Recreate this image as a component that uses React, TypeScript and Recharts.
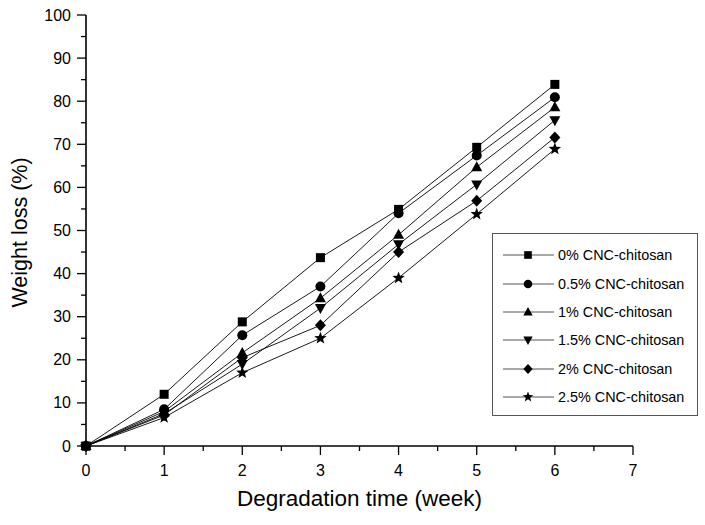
import React from 'react';
import { LineChart, Line, XAxis, YAxis, Legend } from 'recharts';

const weeks = [0, 1, 2, 3, 4, 5, 6];
const cnc0 = [0, 12, 28.8, 43.7, 54.9, 69.3, 83.9];
const cnc05 = [0, 8.5, 25.7, 37, 54, 67.4, 80.9];
const cnc1 = [0, 8, 21.6, 34.3, 49, 64.7, 78.6];
const cnc15 = [0, 7.5, 19, 32, 46.8, 60.7, 75.6];
const cnc2 = [0, 7.2, 20.5, 28, 45, 56.9, 71.6];
const cnc25 = [0, 6.6, 17, 25, 39, 53.8, 68.9];

const xTicks = [0, 0.5, 1, 1.5, 2, 2.5, 3, 3.5, 4, 4.5, 5, 5.5, 6, 6.5, 7];
const yTicks = [0, 5, 10, 15, 20, 25, 30, 35, 40, 45, 50, 55, 60, 65, 70, 75, 80, 85, 90, 95, 100];

const series = [
  { key: 'c0', name: '0% CNC-chitosan', values: cnc0, shape: 'square' },
  { key: 'c05', name: '0.5% CNC-chitosan', values: cnc05, shape: 'circle' },
  { key: 'c1', name: '1% CNC-chitosan', values: cnc1, shape: 'triangle' },
  { key: 'c15', name: '1.5% CNC-chitosan', values: cnc15, shape: 'down' },
  { key: 'c2', name: '2% CNC-chitosan', values: cnc2, shape: 'diamond' },
  { key: 'c25', name: '2.5% CNC-chitosan', values: cnc25, shape: 'star' },
];

const data = weeks.map((w, i) => {
  const row: any = { week: w };
  series.forEach((s) => { row[s.key] = s.values[i]; });
  return row;
});

const FONT = 'Arial, "Liberation Sans", sans-serif';

function starPath(cx: number, cy: number, r: number) {
  const pts: string[] = [];
  for (let i = 0; i < 10; i++) {
    const rad = i % 2 === 0 ? r : r * 0.42;
    const a = -Math.PI / 2 + (i * Math.PI) / 5;
    pts.push(`${cx + rad * Math.cos(a)},${cy + rad * Math.sin(a)}`);
  }
  return 'M' + pts.join('L') + 'Z';
}

const Marker = ({ shape, cx, cy, s = 1 }: { shape: string; cx: number; cy: number; s?: number }) => {
  if (cx == null || cy == null) return null;
  switch (shape) {
    case 'square':
      return <rect x={cx - 4.5 * s} y={cy - 4.5 * s} width={9 * s} height={9 * s} fill="#000" />;
    case 'circle':
      return <circle cx={cx} cy={cy} r={5 * s} fill="#000" />;
    case 'triangle':
      return <path d={`M${cx},${cy - 6 * s}L${cx + 5.5 * s},${cy + 4 * s}L${cx - 5.5 * s},${cy + 4 * s}Z`} fill="#000" />;
    case 'down':
      return <path d={`M${cx},${cy + 6 * s}L${cx + 5.5 * s},${cy - 4 * s}L${cx - 5.5 * s},${cy - 4 * s}Z`} fill="#000" />;
    case 'diamond':
      return <path d={`M${cx},${cy - 6 * s}L${cx + 5.5 * s},${cy}L${cx},${cy + 6 * s}L${cx - 5.5 * s},${cy}Z`} fill="#000" />;
    default:
      return <path d={starPath(cx, cy, 6.5 * s)} fill="#000" />;
  }
};

const YTick = (props: any) => {
  const { x, y, payload } = props;
  const major = payload.value % 10 === 0;
  return (
    <g>
      <line x1={x} x2={x - (major ? 9 : 5)} y1={y} y2={y} stroke="#000" strokeWidth={1.3} />
      {major && (
        <text x={x - 15} y={y} dy={5.5} textAnchor="end" fontSize={16} fontFamily={FONT} fill="#000">
          {payload.value}
        </text>
      )}
    </g>
  );
};

const XTick = (props: any) => {
  const { x, y, payload } = props;
  const major = payload.value % 1 === 0;
  return (
    <g>
      <line x1={x} x2={x} y1={y} y2={y + (major ? 9 : 5)} stroke="#000" strokeWidth={1.3} />
      {major && (
        <text x={x} y={y + 30} textAnchor="middle" fontSize={16} fontFamily={FONT} fill="#000">
          {payload.value}
        </text>
      )}
    </g>
  );
};

const LegendBox = () => (
  <div
    style={{
      border: '1px solid #555',
      boxSizing: 'border-box',
      width: 206,
      height: 183,
      padding: '7px 0 0 9px',
      fontFamily: FONT,
      fontSize: 14.4,
      color: '#000',
      background: '#fff',
    }}
  >
    {series.map((s) => (
      <div key={s.key} style={{ display: 'flex', alignItems: 'center', height: 28.4 }}>
        <svg width={56} height={16} style={{ flex: 'none' }}>
          <line x1={1} x2={52} y1={8} y2={8} stroke="#555" strokeWidth={1} />
          <Marker shape={s.shape} cx={26} cy={8} s={0.85} />
        </svg>
        <span style={{ whiteSpace: 'nowrap' }}>{s.name}</span>
      </div>
    ))}
  </div>
);

export default function App() {
  return (
    <div style={{ position: 'absolute', left: 0, top: 0, background: '#fff' }}>
      <LineChart width={705} height={525} data={data} margin={{ top: 15, right: 72, left: 0, bottom: 0 }}>
        <XAxis
          dataKey="week"
          type="number"
          domain={[0, 7]}
          ticks={xTicks}
          interval={0}
          height={79}
          tickSize={0}
          tickMargin={0}
          tickLine={false}
          tick={<XTick />}
          axisLine={{ stroke: '#000', strokeWidth: 1.6 }}
          label={{
            content: (p: any) => {
              const vb = p.viewBox;
              return (
                <text x={vb.x + vb.width / 2} y={vb.y + 60} textAnchor="middle" fontSize={22.5} fontFamily={FONT} fill="#000">
                  Degradation time (week)
                </text>
              );
            },
          }}
        />
        <YAxis
          type="number"
          domain={[0, 100]}
          ticks={yTicks}
          interval={0}
          width={86}
          tickSize={0}
          tickMargin={0}
          tickLine={false}
          tick={<YTick />}
          axisLine={{ stroke: '#000', strokeWidth: 1.6 }}
          label={{
            content: (p: any) => {
              const vb = p.viewBox;
              const cx = vb.x + 27;
              const cy = vb.y + vb.height / 2 + 2;
              return (
                <text x={cx} y={cy} transform={`rotate(-90 ${cx} ${cy})`} textAnchor="middle" fontSize={21.5} fontFamily={FONT} fill="#000">
                  Weight loss (%)
                </text>
              );
            },
          }}
        />
        <Legend
          layout="vertical"
          align="center"
          verticalAlign="middle"
          content={<LegendBox />}
          wrapperStyle={{ left: 492, top: 233, width: 206 }}
        />
        {series.map((s) => (
          <Line
            key={s.key}
            dataKey={s.key}
            name={s.name}
            stroke="#000"
            strokeWidth={0.9}
            isAnimationActive={false}
            dot={(p: any) => <Marker key={`${s.key}-${p.index}`} shape={s.shape} cx={p.cx} cy={p.cy} />}
            activeDot={false}
          />
        ))}
      </LineChart>
    </div>
  );
}
